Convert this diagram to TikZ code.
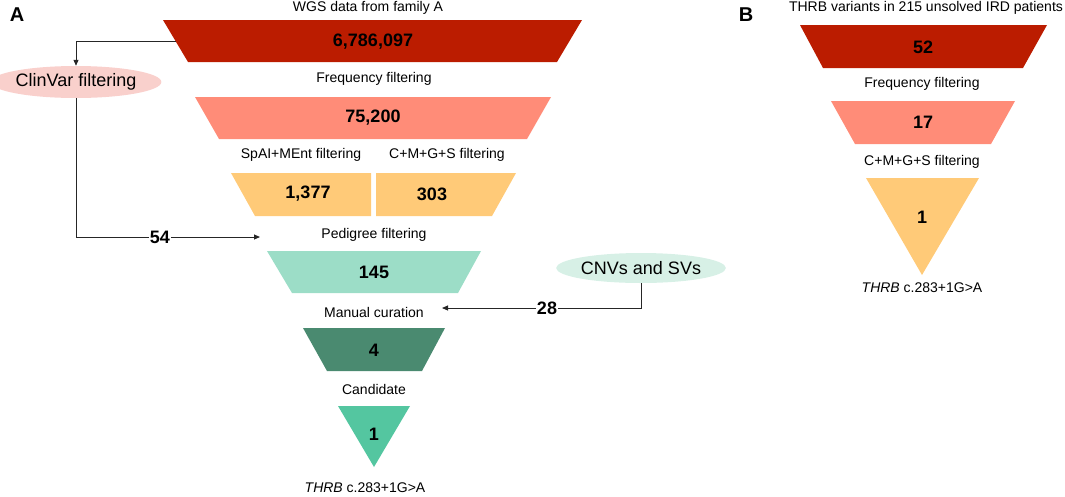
\documentclass[tikz,border=0pt]{standalone}
\usepackage{fontspec}
\setmainfont{Liberation Sans}
\usetikzlibrary{arrows.meta,shapes.geometric}

\definecolor{wgsred}{HTML}{BB1C00}
\definecolor{freqsalmon}{HTML}{FF8C78}
\definecolor{splyellow}{HTML}{FFCA78}
\definecolor{pedteal}{HTML}{9CDDC7}
\definecolor{mangreen}{HTML}{4A8A70}
\definecolor{candgreen}{HTML}{54C6A0}
\definecolor{clinpink}{HTML}{F9D0CC}
\definecolor{cnvmint}{HTML}{D7F0E6}

\tikzset{
  lbl/.style={font=\fontsize{14}{16}\selectfont, inner sep=0pt},
  num/.style={font=\fontsize{18}{20}\selectfont\bfseries, inner sep=0pt},
  panel/.style={font=\fontsize{20}{24}\selectfont\bfseries, inner sep=0pt},
  src/.style={ellipse, font=\fontsize{18}{20}\selectfont, inner sep=0pt},
  link/.style={draw=black!85, line width=1pt, -{Triangle[length=6pt,width=5pt]}},
}

\begin{document}
\begin{tikzpicture}[x=1pt,y=-1pt]
\useasboundingbox (0,0) rectangle (1065,496);

% panel A
\node[panel] (pa) at (17,15) {A};
\node[lbl] (wgs) at (368,8) {WGS data from family A};
\fill[wgsred] (163,20) -- (582,20) -- (557,62) -- (188,62) -- cycle;
\node[num] (n1) at (373,42) {6,786,097};
\node[lbl] (freq) at (374,79) {Frequency filtering};
\fill[freqsalmon] (195,97) -- (551,97) -- (527,139) -- (219,139) -- cycle;
\node[num] (n2) at (373,118) {75,200};
\node[lbl] (spai) at (301,155) {SpAI+MEnt filtering};
\node[lbl] (cmgs) at (447,155) {C+M+G+S filtering};
\fill[splyellow] (231,173) -- (371,173) -- (371,216) -- (255,216) -- cycle;
\fill[splyellow] (376,173) -- (516,173) -- (492,216) -- (376,216) -- cycle;
\node[num] (n3) at (308,194) {1,377};
\node[num] (n4) at (432,194) {303};
\node[lbl] (ped) at (374,235) {Pedigree filtering};
\fill[pedteal] (267,251) -- (481,251) -- (458,293) -- (292,293) -- cycle;
\node[num] (n5) at (374,272) {145};
\node[lbl] (man) at (374,312) {Manual curation};
\fill[mangreen] (303,328) -- (445,328) -- (422,371) -- (327,371) -- cycle;
\node[num] (n6) at (374,350) {4};
\node[lbl] (cand) at (374,389) {Candidate};
\fill[candgreen] (338,406) -- (410,406) -- (374,467) -- cycle;
\node[num] (n7) at (374,434) {1};
\node[lbl] (res) at (365,488) {\textit{THRB} c.283+1G>A};

% side inputs
\node[src, fill=clinpink, minimum width=148pt, minimum height=32pt] (clin) at (76,82) {ClinVar filtering};
\node[src, fill=cnvmint, minimum width=138pt, minimum height=30pt] (cnv) at (641,268) {CNVs and SVs};
\coordinate (wgsleft) at (176,41);
\coordinate (pedin) at (260,237);
\coordinate (manin) at (442,308);
\draw[link] (wgsleft) -| (clin.north);
\draw[link] (clin.south) |- (pedin);
\draw[link] (cnv.south) |- (manin);
\node[num, fill=white, inner xsep=1pt] (c54) at (160,237) {54};
\node[num, fill=white, inner xsep=1pt] (c28) at (547,308) {28};

% panel B
\node[panel] (pb) at (746,15) {B};
\node[lbl] (thrb) at (926,8) {THRB variants in 215 unsolved IRD patients};
\fill[wgsred] (800,25) -- (1047,25) -- (1023,68) -- (823,68) -- cycle;
\node[num] (m1) at (923,47) {52};
\node[lbl] (freqb) at (922,84) {Frequency filtering};
\fill[freqsalmon] (831,101) -- (1015,101) -- (991,144) -- (855,144) -- cycle;
\node[num] (m2) at (923,122) {17};
\node[lbl] (cmgsb) at (922,162) {C+M+G+S filtering};
\fill[splyellow] (866,178) -- (979,178) -- (922,275) -- cycle;
\node[num] (m3) at (922,217) {1};
\node[lbl] (resb) at (922,288) {\textit{THRB} c.283+1G>A};
\end{tikzpicture}
\end{document}
